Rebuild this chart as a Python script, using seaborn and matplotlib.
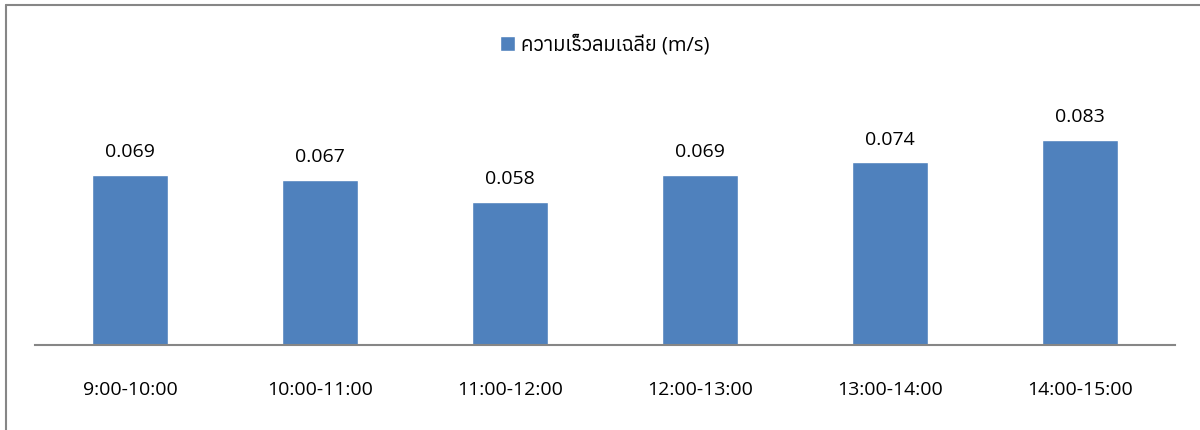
import matplotlib
matplotlib.use('Agg')
import matplotlib.pyplot as plt
import seaborn as sns
import pandas as pd
from matplotlib import font_manager
from matplotlib.ft2font import FT2Font

# data
periods = ['9:00-10:00', '10:00-11:00', '11:00-12:00', '12:00-13:00', '13:00-14:00', '14:00-15:00']
wind_speed = [0.069, 0.067, 0.058, 0.069, 0.074, 0.083]
series_name = 'ความเร็วลมเฉลี่ย (m/s)'

# find a font that has Thai glyphs
thai_fonts = []
for f in font_manager.fontManager.ttflist:
    try:
        if FT2Font(f.fname).get_char_index(ord('ค')) != 0:
            thai_fonts.append(f.name)
    except Exception:
        pass
thai_fonts = sorted(set(thai_fonts))

sns.set_style('white')
plt.rcParams['font.family'] = ['Open Sans', 'DejaVu Sans'] + thai_fonts[:1]

df = pd.DataFrame({'period': periods, 'speed': wind_speed})

fig = plt.figure(figsize=(12, 4.3), dpi=100)
ax = fig.add_axes([35/1200, 85/430, 1140/1200, 247/430])
sns.barplot(data=df, x='period', y='speed', color='#4f81bd', width=0.4,
            saturation=1, ax=ax, label=series_name)
ax.set_ylim(0, 0.1)
ax.set_xlim(-0.5, 5.5)
ax.set_xlabel('')
ax.set_ylabel('')
ax.set_yticks([])
for s in ['top', 'right', 'left']:
    ax.spines[s].set_visible(False)
ax.spines['bottom'].set_color('#868686')
ax.spines['bottom'].set_linewidth(1.5)
ax.tick_params(axis='x', length=0, pad=26, labelsize=14, labelcolor='#000000')

for i, v in enumerate(wind_speed):
    ax.text(i, v + 0.0055, f'{v:.3f}', ha='center', va='bottom', fontsize=14, color='#000000')

ax.legend(loc='center', bbox_to_anchor=(0.5, (430 - 45 - 85) / 247), frameon=False,
          fontsize=14.5, handlelength=0.75, handleheight=0.75, handletextpad=0.3,
          labelcolor='#000000')

# chart border (left and top)
fig.add_artist(plt.Line2D([6/1200, 6/1200], [0, 1 - 5/430], color='#868686', lw=1.5))
fig.add_artist(plt.Line2D([6/1200, 1], [1 - 5/430, 1 - 5/430], color='#868686', lw=1.5))

fig.savefig('out.png', dpi=100)
